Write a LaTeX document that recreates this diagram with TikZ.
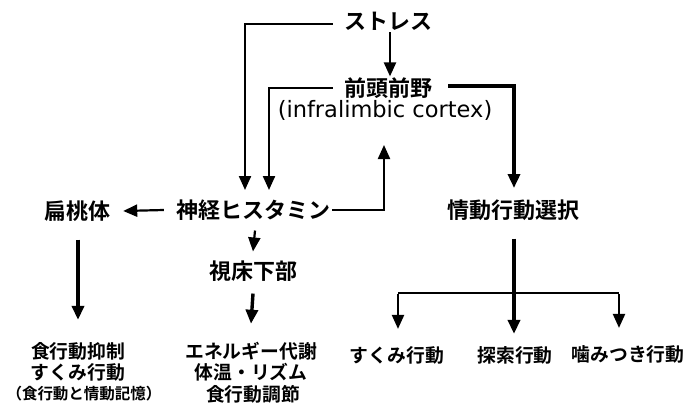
\documentclass[tikz,border=0pt]{standalone}
\usepackage{fontspec}
\setmainfont{Noto Sans CJK JP}[BoldFont={* Bold}]
\newfontfamily\latinfont{DejaVu Sans}
\usetikzlibrary{arrows.meta}
\begin{document}
\begin{tikzpicture}[x=1pt,y=-1pt,
  lbl/.style={font=\bfseries\fontsize{22}{24}\selectfont,inner sep=0pt},
  lat/.style={font=\latinfont\fontsize{22.5}{24}\selectfont,inner sep=0pt},
  sml/.style={font=\bfseries\fontsize{18.8}{21}\selectfont,inner sep=0pt},
  tiny/.style={font=\bfseries\fontsize{15.5}{17}\selectfont,inner sep=0pt},
  ln/.style={line width=2.2pt},
  arr/.style={line width=2.2pt,-{Triangle[length=14pt,width=12pt]}},
  tarr/.style={line width=3.4pt,-{Triangle[length=14pt,width=12pt]}}]
\useasboundingbox (0,0) rectangle (689,410);
% nodes
\node[lbl] (stress) at (388,21) {ストレス};
\node[lbl] (pfc) at (388,88) {前頭前野};
\node[lat] (ilc) at (385,110) {(infralimbic cortex)};
\node[lbl] (hist) at (253,210) {神経ヒスタミン};
\node[lbl] (amy) at (78,211) {扁桃体};
\node[lbl] (hypo) at (253,271) {視床下部};
\node[lbl] (emo) at (513,210) {情動行動選択};
\node[sml] (b1) at (78,351) {食行動抑制};
\node[sml] (b2) at (78,372) {すくみ行動};
\node[tiny] (b3) at (84,394) {（食行動と情動記憶）};
\node[sml] (e1) at (251,351) {エネルギー代謝};
\node[sml] (e2) at (251,372) {体温・リズム};
\node[sml] (e3) at (253,394) {食行動調節};
\node[sml] (r1) at (397,355) {すくみ行動};
\node[sml] (r2) at (515,355) {探索行動};
\node[sml] (r3) at (628,354) {噛みつき行動};
% coordinates
\coordinate (h1) at (245,190);
\coordinate (h2) at (269,190);
\coordinate (up) at (384,145);
\coordinate (e0) at (514,188);
\coordinate (j) at (514,293);
\coordinate (jl) at (398,293);
\coordinate (jr) at (619,293);
% connectors
\draw[arr] (stress.west) ++(-11,3) -| (h1);
\draw[arr] ([xshift=2pt,yshift=-2pt]stress.south) -- ([xshift=2pt,yshift=1pt]pfc.north);
\draw[arr] ([xshift=-11pt]pfc.west) -| (h2);
\draw[tarr] ([xshift=16pt,yshift=2pt]pfc.east) -| (e0);
\draw[arr] ([xshift=2pt]hist.east) -| (up);
\draw[arr] ([xshift=-12pt]hist.west) -- ([xshift=12pt]amy.east);
\draw[arr] ([xshift=2pt,yshift=-10pt]hist.south) -- ([yshift=9pt]hypo.north);
\draw[tarr] ([yshift=-18pt]amy.south) -- ([yshift=22pt]b1.north);
\draw[tarr] ([yshift=-12pt]hypo.south) -- ([yshift=18pt]e1.north);
\draw[tarr] ([xshift=1pt,yshift=-18pt]emo.south) -- (j) -- ([yshift=12pt]r2.north -| j);
\draw[ln] (jl) -- (jr);
\draw[arr] ([yshift=-1.1pt]jl) -- ([yshift=17pt]r1.north -| jl);
\draw[arr] ([yshift=-1.1pt]jr) -- ([yshift=17pt]r3.north -| jr);
\end{tikzpicture}
\end{document}
